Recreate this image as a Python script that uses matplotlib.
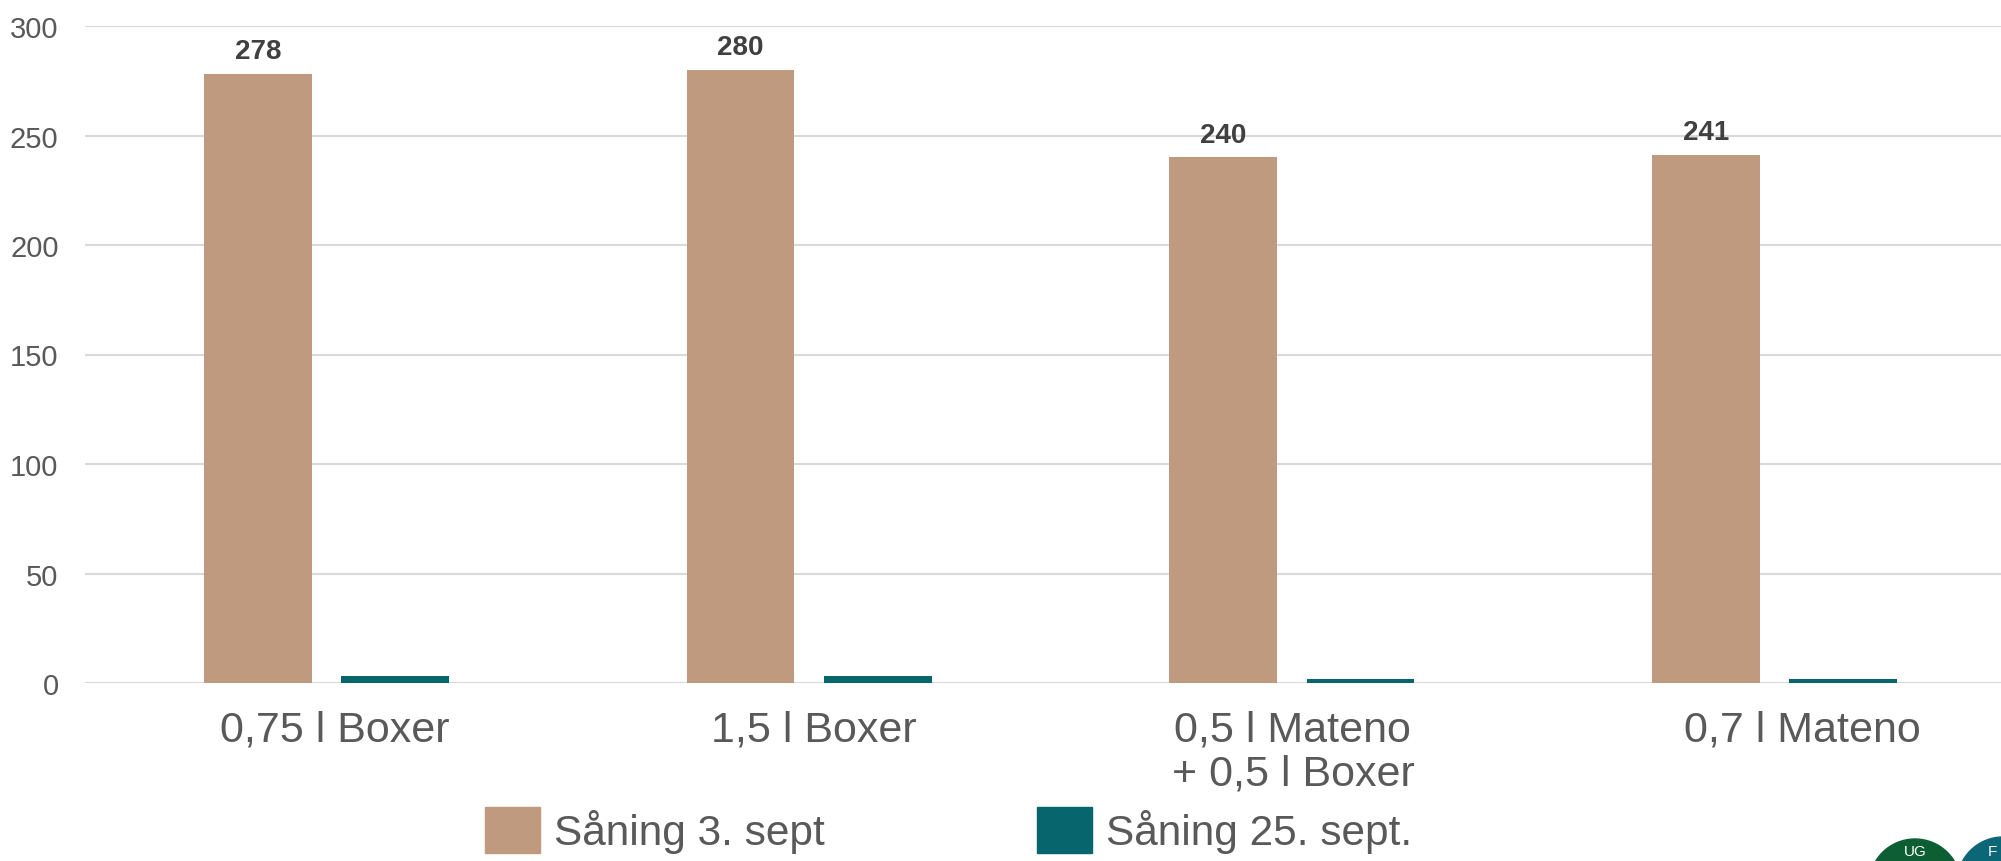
import matplotlib.pyplot as plt
import matplotlib.transforms as mtransforms
import numpy as np
from matplotlib.patches import Patch, Ellipse

plt.rcParams['font.family'] = ['Liberation Sans', 'DejaVu Sans']

# data
categories = ['0,75 l Boxer', '1,5 l Boxer', '0,5 l Mateno\n+ 0,5 l Boxer', '0,7 l Mateno']
series_names = ['Såning 3. sept', 'Såning 25. sept.']
early = [278, 280, 240, 241]
late = [3, 3, 2, 2]

BROWN = '#BF9A7E'
TEAL = '#07656E'
GREY = '#595959'

W, H = 2001, 862
fig = plt.figure(figsize=(W / 100, H / 100), dpi=100)
ax = fig.add_axes([85 / W, 1 - 684 / H, (2016 - 85) / W, (684 - 27) / H])

x = np.arange(len(categories))
width = 0.223
off = 0.142
ax.bar(x - off, early, width, color=BROWN, label=series_names[0], zorder=3)
ax.bar(x + off, late, width, color=TEAL, label=series_names[1], zorder=3)

for xi, v in zip(x - off, early):
    ax.annotate(str(v), (xi, v), xytext=(0, 7), textcoords='offset points',
                ha='center', va='bottom', fontsize=20, fontweight='bold', color='#404040')

ax.set_xlim(-0.5, len(categories) - 0.5)
ax.set_ylim(0, 300)
ax.set_yticks(range(0, 301, 50))
ax.grid(axis='y', color='#D9D9D9', linewidth=1.5, zorder=0)
ax.set_axisbelow(True)
for s in ax.spines.values():
    s.set_visible(False)
ax.tick_params(axis='y', length=0, pad=19, labelsize=21, labelcolor=GREY)
ax.tick_params(axis='x', length=0, pad=19, labelsize=31, labelcolor=GREY)
ax.set_xticks(x)
ax.set_xticklabels(categories, linespacing=1.12)

# the last label sits a bit to the right, as in the original slide (chart edge)
shifts = [8, 5, 1, 28]
for lbl, dx in zip(ax.get_xticklabels(), shifts):
    lbl.set_transform(lbl.get_transform() + mtransforms.ScaledTranslation(dx / 100, 0, fig.dpi_scale_trans))

handles = [Patch(color=BROWN), Patch(color=TEAL)]
fig.legend(handles, series_names, ncol=2, loc='upper left',
           bbox_to_anchor=(485 / W, 1 - 808 / H), frameon=False, fontsize=30.5,
           labelcolor=GREY, handlelength=1.3, handleheight=1.3, handletextpad=0.34,
           columnspacing=5.0, borderpad=0, borderaxespad=0)

# logo fragment in the lower right corner
r = 46
for cx, cy, col, txt, tx in [(1915, 886, '#0E5E34', 'UG', 1915), (2003, 884, '#0B6675', 'F', 1992)]:
    fig.patches.append(Ellipse((cx / W, 1 - cy / H), 2 * r / W, 2 * r / H,
                               transform=fig.transFigure, color=col, zorder=5))
    fig.text(tx / W, 1 - 852 / H, txt, color='white', fontsize=11,
             ha='center', va='center', zorder=6)

fig.savefig('out.png', dpi=100)
